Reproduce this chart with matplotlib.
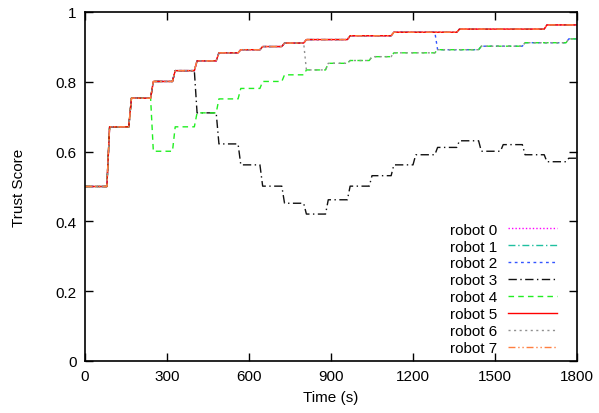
import matplotlib
matplotlib.use("Agg")
import matplotlib.pyplot as plt

plt.rcParams['font.family'] = ['Liberation Sans', 'DejaVu Sans']

# Step times (s) at which trust values update
step_times = [0, 80, 160, 240, 320, 400, 480, 560, 640, 720, 800, 880,
              960, 1040, 1120, 1200, 1280, 1360, 1440, 1520, 1600, 1680, 1760]
end_time = 1800
ramp = 10  # sampling interval of the data (s)

trusted = [0.5, 0.671, 0.753, 0.801, 0.832, 0.860, 0.883, 0.892, 0.901, 0.911, 0.921, 0.921,
           0.932, 0.932, 0.942, 0.942, 0.942, 0.951, 0.951, 0.951, 0.951, 0.963, 0.963]
robot4 = [0.5, 0.671, 0.753, 0.601, 0.671, 0.711, 0.751, 0.781, 0.801, 0.820, 0.834, 0.853,
          0.861, 0.872, 0.883, 0.883, 0.892, 0.892, 0.902, 0.902, 0.912, 0.912, 0.923]
robot3 = [0.5, 0.671, 0.753, 0.801, 0.832, 0.711, 0.622, 0.562, 0.501, 0.452, 0.421, 0.462,
          0.501, 0.531, 0.562, 0.591, 0.612, 0.631, 0.601, 0.620, 0.591, 0.571, 0.581]
robot6 = [0.5, 0.671, 0.753, 0.801, 0.832, 0.860, 0.883, 0.892, 0.901, 0.911, 0.834, 0.853,
          0.861, 0.872, 0.883, 0.883, 0.892, 0.892, 0.902, 0.902, 0.912, 0.912, 0.923]
robot2 = [0.5, 0.671, 0.753, 0.801, 0.832, 0.860, 0.883, 0.892, 0.901, 0.911, 0.921, 0.921,
          0.932, 0.932, 0.942, 0.942, 0.892, 0.892, 0.902, 0.902, 0.912, 0.912, 0.923]

series = {
    'robot 0': trusted,
    'robot 1': trusted,
    'robot 2': robot2,
    'robot 3': robot3,
    'robot 4': robot4,
    'robot 5': trusted,
    'robot 6': robot6,
    'robot 7': trusted,
}

styles = {
    'robot 0': dict(color='#ff00ff', dashes=(1, 1.5)),
    'robot 1': dict(color='#20c0a0', dashes=(5, 2, 1, 2)),
    'robot 2': dict(color='#3355ff', dashes=(2, 2.5)),
    'robot 3': dict(color='#111111', dashes=(6, 2.5, 1, 2.5)),
    'robot 4': dict(color='#22ee22', dashes=(4, 3)),
    'robot 5': dict(color='#ff0000'),
    'robot 6': dict(color='#909090', dashes=(1.5, 2.5)),
    'robot 7': dict(color='#ff7f40', dashes=(5, 2, 1, 2, 1, 2)),
}


def step_curve(times, vals):
    xs, ys = [times[0]], [vals[0]]
    for k in range(1, len(times)):
        xs += [times[k], times[k] + ramp]
        ys += [vals[k - 1], vals[k]]
    xs.append(end_time)
    ys.append(vals[-1])
    return xs, ys


fig = plt.figure(figsize=(5.99, 4.14), dpi=100)
ax = fig.add_axes([85 / 599, 1 - 362 / 414, 492 / 599, 349 / 414])

for name, vals in series.items():
    xs, ys = step_curve(step_times, vals)
    ax.plot(xs, ys, lw=1.0, label=name, **styles[name])

ax.set_xlim(0, 1800)
ax.set_ylim(0, 1)
ax.set_xticks([0, 300, 600, 900, 1200, 1500, 1800])
ax.set_yticks([0, 0.2, 0.4, 0.6, 0.8, 1.0])
ax.set_yticklabels(['0', '0.2', '0.4', '0.6', '0.8', '1'])
ax.tick_params(direction='in', length=6, width=1, top=True, right=True,
               labelsize=11, pad=6)
for s in ax.spines.values():
    s.set_linewidth(1.2)
ax.set_xlabel('Time (s)', fontsize=11, labelpad=5)
ax.set_ylabel('Trust Score', fontsize=11, labelpad=21)

leg = ax.legend(loc='lower right', bbox_to_anchor=((557 - 85) / 492, (362 - 356) / 349),
                frameon=False, markerfirst=False, fontsize=11, handlelength=3.2,
                handletextpad=0.7, labelspacing=0.19, borderaxespad=0, borderpad=0)

fig.savefig('out.png', dpi=100)
